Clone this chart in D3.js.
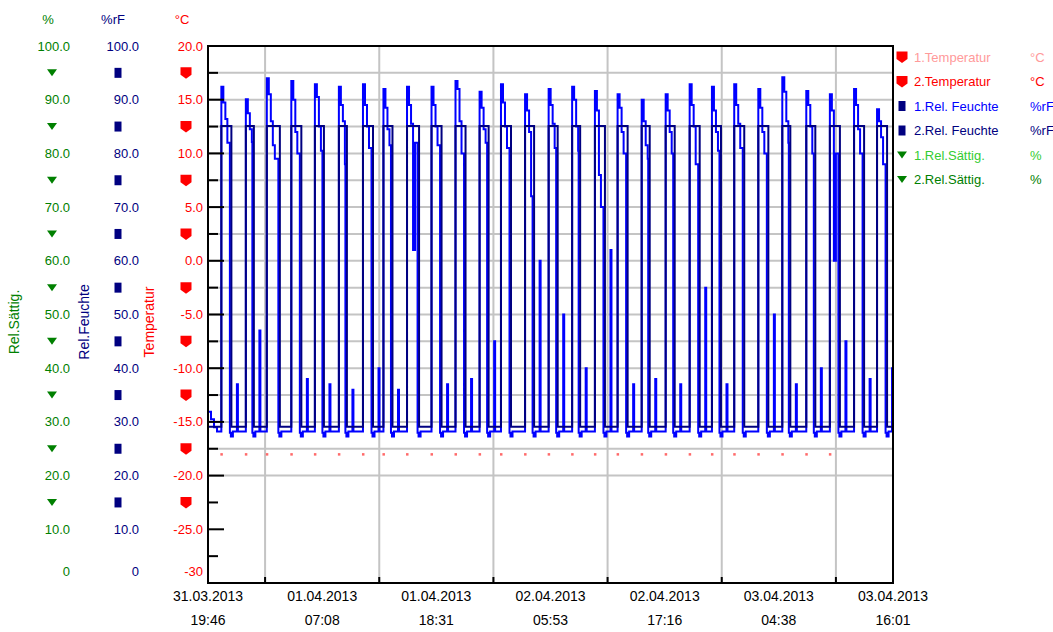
<!DOCTYPE html>
<html>
<head>
<meta charset="utf-8">
<script src="https://cdn.jsdelivr.net/npm/d3@7"></script>
<style>
  body { margin: 0; background: #fff; }
  svg { display: block; font-family: "Liberation Sans", Arial, sans-serif; }
</style>
</head>
<body>
<svg id="chart" width="1053" height="632"></svg>
<script>
// ---- data (hours since 31.03.2013 19:46) ----
const startTime = new Date(2013, 2, 31, 19, 46);
const totalHours = 68.25;

// x axis labels
const xTickHours = [0, 11.375, 22.75, 34.125, 45.5, 56.875, 68.25];
const xTickDates = ["31.03.2013", "01.04.2013", "01.04.2013", "02.04.2013", "02.04.2013", "03.04.2013", "03.04.2013"];
const xTickTimes = ["19:46", "07:08", "18:31", "05:53", "17:16", "04:38", "16:01"];

// left axes tick labels (top to bottom)
const satLabels = ["100.0", "90.0", "80.0", "70.0", "60.0", "50.0", "40.0", "30.0", "20.0", "10.0", "0"];
const rfLabels = ["100.0", "90.0", "80.0", "70.0", "60.0", "50.0", "40.0", "30.0", "20.0", "10.0", "0"];
const tempLabels = ["20.0", "15.0", "10.0", "5.0", "0.0", "-5.0", "-10.0", "-15.0", "-20.0", "-25.0", "-30"];

// 1.Temperatur: one reading per cycle (°C)
const temp1 = [
  [1.33, -18.0], [3.77, -18.0], [5.86, -18.0], [8.30, -18.0], [10.65, -18.0], [13.04, -18.0],
  [15.44, -18.0], [17.48, -18.0], [19.83, -18.0], [22.27, -18.0], [24.66, -18.0], [27.06, -18.0],
  [29.19, -18.0], [31.59, -18.0], [33.94, -18.0], [36.28, -18.0], [38.55, -18.0], [40.81, -18.0],
  [43.21, -18.0], [45.60, -18.0], [47.99, -18.0], [50.21, -18.0], [52.43, -18.0], [54.83, -18.0],
  [57.22, -18.0], [59.61, -18.0], [61.96, -18.0]
];

// 1.Rel. Feuchte (%rF)
const rf1 = [
  [0, 31.9], [0.3, 30.5], [0.6, 29.0], [0.9, 28.2],
  [1.33, 92.4], [1.53, 89.5], [1.73, 86.4], [1.93, 82.0], [2.18, 28.0], [2.28, 27.3], [2.48, 28.2], [2.88, 37.0], [2.98, 28.2],
  [3.77, 90.1], [3.97, 87.5], [4.17, 84.5], [4.37, 82.1], [4.42, 28.0], [4.52, 27.3], [4.72, 28.2], [5.12, 47.0], [5.22, 28.2],
  [5.86, 94.0], [6.06, 91.0], [6.26, 86.0], [6.46, 81.5], [6.66, 79.0], [7.01, 28.0], [7.11, 27.3], [7.31, 28.2],
  [8.30, 93.5], [8.50, 90.0], [8.70, 84.0], [8.90, 80.0], [9.15, 28.0], [9.25, 27.3], [9.45, 28.2], [9.85, 38.0], [9.95, 28.2],
  [10.65, 92.9], [10.85, 90.5], [11.05, 85.0], [11.25, 80.5], [11.40, 28.0], [11.50, 27.3], [11.70, 28.2], [12.10, 37.0], [12.20, 28.2],
  [13.04, 92.4], [13.24, 89.0], [13.44, 86.0], [13.64, 78.0], [13.69, 28.0], [13.79, 27.3], [13.99, 28.2], [14.39, 36.0], [14.49, 28.2],
  [15.44, 92.9], [15.64, 89.0], [15.84, 85.0], [16.04, 81.0], [16.29, 28.0], [16.39, 27.3], [16.59, 28.2], [16.99, 40.0], [17.09, 28.2],
  [17.48, 92.0], [17.68, 88.5], [17.88, 84.5], [18.08, 81.5], [18.23, 28.0], [18.33, 27.3], [18.53, 28.2], [18.93, 36.0], [19.03, 28.2],
  [19.83, 92.4], [20.03, 89.0], [20.23, 85.5], [20.43, 62.0], [20.63, 82.0], [20.88, 28.0], [20.98, 27.3], [21.18, 28.2],
  [22.27, 92.4], [22.47, 89.0], [22.67, 85.0], [22.87, 81.5], [23.12, 28.0], [23.22, 27.3], [23.42, 28.2], [23.82, 37.0], [23.92, 28.2],
  [24.66, 93.5], [24.86, 92.0], [25.06, 86.0], [25.26, 80.0], [25.51, 28.0], [25.61, 27.3], [25.81, 28.2], [26.21, 38.0], [26.31, 28.2],
  [27.06, 91.5], [27.26, 88.5], [27.46, 84.5], [27.66, 82.0], [27.81, 28.0], [27.91, 27.3], [28.11, 28.2], [28.51, 45.0], [28.61, 28.2],
  [29.19, 92.9], [29.39, 89.5], [29.59, 85.0], [29.79, 81.0], [30.04, 28.0], [30.14, 27.3], [30.34, 28.2],
  [31.59, 91.0], [31.79, 88.0], [31.99, 84.0], [32.19, 72.0], [32.34, 28.0], [32.44, 27.3], [32.64, 28.2], [33.04, 60.0], [33.14, 28.2],
  [33.94, 92.0], [34.14, 89.0], [34.34, 85.5], [34.54, 81.0], [34.69, 28.0], [34.79, 27.3], [34.99, 28.2], [35.39, 50.0], [35.49, 28.2],
  [36.28, 92.4], [36.48, 90.0], [36.68, 85.0], [36.88, 80.5], [36.93, 28.0], [37.03, 27.3], [37.23, 28.2], [37.63, 40.0], [37.73, 28.2],
  [38.55, 91.6], [38.75, 88.0], [38.95, 76.0], [39.15, 70.0], [39.40, 28.0], [39.50, 27.3], [39.70, 28.2], [40.10, 62.0], [40.20, 28.2],
  [40.81, 91.0], [41.01, 88.5], [41.21, 84.0], [41.41, 80.0], [41.66, 28.0], [41.76, 27.3], [41.96, 28.2], [42.36, 37.0], [42.46, 28.2],
  [43.21, 90.0], [43.41, 86.0], [43.61, 81.5], [43.81, 79.0], [43.86, 28.0], [43.96, 27.3], [44.16, 28.2], [44.56, 38.0], [44.66, 28.2],
  [45.60, 91.0], [45.80, 88.0], [46.00, 84.0], [46.20, 80.0], [46.35, 28.0], [46.45, 27.3], [46.65, 28.2], [47.05, 37.0], [47.15, 28.2],
  [47.99, 92.9], [48.19, 89.0], [48.39, 85.0], [48.59, 78.0], [48.84, 28.0], [48.94, 27.3], [49.14, 28.2], [49.54, 55.0], [49.64, 28.2],
  [50.21, 92.4], [50.41, 88.0], [50.61, 84.0], [50.81, 80.5], [50.96, 28.0], [51.06, 27.3], [51.26, 28.2], [51.66, 37.0], [51.76, 28.2],
  [52.43, 92.9], [52.63, 89.0], [52.83, 85.5], [53.03, 81.0], [53.28, 28.0], [53.38, 27.3], [53.58, 28.2],
  [54.83, 92.0], [55.03, 88.5], [55.23, 84.0], [55.43, 80.0], [55.68, 28.0], [55.78, 27.3], [55.98, 28.2], [56.38, 50.0], [56.48, 28.2],
  [57.22, 94.2], [57.42, 91.5], [57.62, 86.0], [57.82, 82.0], [57.87, 28.0], [57.97, 27.3], [58.17, 28.2], [58.57, 37.0], [58.67, 28.2],
  [59.61, 91.6], [59.81, 89.0], [60.01, 85.0], [60.21, 80.0], [60.36, 28.0], [60.46, 27.3], [60.66, 28.2], [61.06, 40.0], [61.16, 28.2],
  [61.96, 91.0], [62.16, 88.0], [62.36, 60.0], [62.56, 80.0], [62.81, 28.0], [62.91, 27.3], [63.11, 28.2], [63.51, 45.0], [63.61, 28.2],
  [64.37, 92.0], [64.57, 89.0], [64.77, 84.5], [64.97, 80.0], [65.22, 28.0], [65.32, 27.3], [65.52, 28.2], [65.92, 38.0], [66.02, 28.2],
  [66.66, 88.2], [66.86, 86.0], [67.06, 83.0], [67.26, 78.0], [67.51, 28.0], [67.61, 27.3], [67.81, 28.2], [68.15, 40.0], [68.25, 40.0]
];

// 2.Rel. Feuchte (%rF) - square wave, [hour, value] at each change
const rf2 = [
  [0, 29.1],
  [1.33, 85.1], [2.33, 29.1], [3.77, 85.1], [4.57, 29.1], [5.86, 85.1], [7.16, 29.1],
  [8.30, 85.1], [9.30, 29.1], [10.65, 85.1], [11.55, 29.1], [13.04, 85.1], [13.84, 29.1],
  [15.44, 85.1], [16.44, 29.1], [17.48, 85.1], [18.38, 29.1], [19.83, 85.1], [21.03, 29.1],
  [22.27, 85.1], [23.27, 29.1], [24.66, 85.1], [25.66, 29.1], [27.06, 85.1], [27.96, 29.1],
  [29.19, 85.1], [30.19, 29.1], [31.59, 85.1], [32.49, 29.1], [33.94, 85.1], [34.84, 29.1],
  [36.28, 85.1], [37.08, 29.1], [38.55, 85.1], [39.55, 29.1], [40.81, 85.1], [41.81, 29.1],
  [43.21, 85.1], [44.01, 29.1], [45.60, 85.1], [46.50, 29.1], [47.99, 85.1], [48.99, 29.1],
  [50.21, 85.1], [51.11, 29.1], [52.43, 85.1], [53.43, 29.1], [54.83, 85.1], [55.83, 29.1],
  [57.22, 85.1], [58.02, 29.1], [59.61, 85.1], [60.51, 29.1], [61.96, 85.1], [62.96, 29.1],
  [64.37, 85.1], [65.37, 29.1], [66.66, 85.1], [67.66, 29.1], [68.25, 29.1]
];

const legendNames = ["1.Temperatur", "2.Temperatur", "1.Rel. Feuchte", "2.Rel. Feuchte", "1.Rel.Sättig.", "2.Rel.Sättig."];
const legendUnits = ["°C", "°C", "%rF", "%rF", "%", "%"];
const legendText = ["#ff9a9a", "#ff0000", "#0000ff", "#000080", "#33cc33", "#008000"];
const legendMarker = ["red", "red", "navy", "navy", "green", "green"];

// ---- layout ----
const svg = d3.select("#chart");
const plotL = 208, plotR = 893, plotT = 46, plotB = 583;
const hourDate = h => new Date(startTime.getTime() + h * 3600000);

const x = d3.scaleTime().domain([startTime, hourDate(totalHours)]).range([plotL, plotR]);
const yRF = d3.scaleLinear().domain([0, 100]).range([plotB, plotT]);
const ySat = d3.scaleLinear().domain([0, 100]).range([plotB, plotT]);
const yTemp = d3.scaleLinear().domain([-30, 20]).range([plotB, plotT]);

const green = "#008000", navy = "#000080", red = "#ff0000";

const markerPath = {
  red: "M-5.5,-5.5H5.5V2L0,6L-5.5,2Z",
  navy: "M-3.5,-5H3.5V5H-3.5Z",
  green: "M-5,-3.5H5L0,3.5Z"
};

// gridlines
const minorVals = d3.range(0, 101, 5);
svg.append("g")
  .selectAll("line")
  .data(minorVals.filter(v => v >= 20 && v < 100))
  .join("line")
    .attr("x1", plotL).attr("x2", plotR)
    .attr("y1", d => yRF(d)).attr("y2", d => yRF(d))
    .attr("stroke", "#c4c4c4").attr("stroke-width", 2);

const gridHours = xTickHours.slice(0, -1).map((h, i) => (h + xTickHours[i + 1]) / 2);
svg.append("g")
  .selectAll("line")
  .data(gridHours)
  .join("line")
    .attr("x1", d => x(hourDate(d))).attr("x2", d => x(hourDate(d)))
    .attr("y1", plotT).attr("y2", plotB)
    .attr("stroke", "#c4c4c4").attr("stroke-width", 2);

// series
const lineRF = d3.line()
  .x(d => x(hourDate(d[0])))
  .y(d => yRF(d[1]))
  .curve(d3.curveStepAfter);

svg.append("path")
  .datum(rf1)
  .attr("d", lineRF)
  .attr("fill", "none")
  .attr("stroke", "#0000ff")
  .attr("stroke-width", 2);

svg.append("path")
  .datum(rf2)
  .attr("d", lineRF)
  .attr("fill", "none")
  .attr("stroke", navy)
  .attr("stroke-width", 2);

svg.append("g")
  .selectAll("rect")
  .data(temp1)
  .join("rect")
    .attr("x", d => x(hourDate(d[0])) - 1)
    .attr("y", d => yTemp(d[1]) - 1)
    .attr("width", 2.5).attr("height", 2.5)
    .attr("fill", "#ff6a6a");

// frame
svg.append("rect")
  .attr("x", plotL).attr("y", plotT)
  .attr("width", plotR - plotL).attr("height", plotB - plotT)
  .attr("fill", "none").attr("stroke", "#000").attr("stroke-width", 2);

// left ticks inside frame
svg.append("g")
  .selectAll("line")
  .data(minorVals)
  .join("line")
    .attr("x1", plotL).attr("x2", d => plotL + (d % 10 === 0 ? 16 : 10))
    .attr("y1", d => yRF(d)).attr("y2", d => yRF(d))
    .attr("stroke", "#000").attr("stroke-width", 2);

// bottom ticks
svg.append("g")
  .selectAll("line")
  .data(gridHours)
  .join("line")
    .attr("x1", d => x(hourDate(d))).attr("x2", d => x(hourDate(d)))
    .attr("y1", plotB).attr("y2", plotB - 6)
    .attr("stroke", "#000").attr("stroke-width", 2);

// x labels
const xl = svg.append("g")
  .attr("font-size", 14)
  .attr("fill", "#000")
  .attr("text-anchor", "middle");
xl.selectAll("text.d")
  .data(xTickHours)
  .join("text")
    .attr("class", "d")
    .attr("x", d => x(hourDate(d)))
    .attr("y", 601)
    .text((d, i) => xTickDates[i]);
xl.selectAll("text.t")
  .data(xTickHours)
  .join("text")
    .attr("class", "t")
    .attr("x", d => x(hourDate(d)))
    .attr("y", 625)
    .text((d, i) => xTickTimes[i]);

// left axes
const labelVals = d3.range(100, -1, -10);
const markerVals = d3.range(95, 14, -10);

function leftAxis(scale, vals, labels, xLabel, xMarker, color, marker) {
  const g = svg.append("g").attr("font-size", 13).attr("fill", color);
  g.selectAll("text")
    .data(vals)
    .join("text")
      .attr("x", xLabel)
      .attr("y", d => Math.min(scale(d), 571))
      .attr("dy", "0.35em")
      .attr("text-anchor", "end")
      .text((d, i) => labels[i]);
  g.selectAll("path")
    .data(markerVals)
    .join("path")
      .attr("transform", d => `translate(${xMarker},${yRF(d)})`)
      .attr("d", markerPath[marker])
      .attr("fill", color);
}
leftAxis(ySat, labelVals, satLabels, 70, 52, green, "green");
leftAxis(yRF, labelVals, rfLabels, 139, 118, navy, "navy");
leftAxis(yTemp, d3.range(20, -31, -5), tempLabels, 203, 186, red, "red");

// unit headers
const heads = [["%", 48, green], ["%rF", 113, navy], ["°C", 182, red]];
svg.append("g")
  .attr("font-size", 13)
  .selectAll("text")
  .data(heads)
  .join("text")
    .attr("x", d => d[1]).attr("y", 24)
    .attr("text-anchor", "middle")
    .attr("fill", d => d[2])
    .text(d => d[0]);

// vertical axis titles
const titles = [["Rel.Sättig.", 19, green], ["Rel.Feuchte", 89, navy], ["Temperatur", 154, red]];
svg.append("g")
  .attr("font-size", 14)
  .selectAll("text")
  .data(titles)
  .join("text")
    .attr("transform", d => `translate(${d[1]},322) rotate(-90)`)
    .attr("text-anchor", "middle")
    .attr("fill", d => d[2])
    .text(d => d[0]);

// legend
const lg = svg.append("g").attr("font-size", 13);
const row = lg.selectAll("g")
  .data(legendNames)
  .join("g")
    .attr("transform", (d, i) => `translate(902,${57 + i * 24.5})`);
row.append("path")
  .attr("d", (d, i) => markerPath[legendMarker[i]])
  .attr("fill", (d, i) => legendMarker[i] === "red" ? red : legendMarker[i] === "navy" ? navy : green);
row.append("text")
  .attr("x", 12).attr("dy", "0.35em")
  .attr("fill", (d, i) => legendText[i])
  .text(d => d);
row.append("text")
  .attr("x", 128).attr("dy", "0.35em")
  .attr("fill", (d, i) => legendText[i])
  .text((d, i) => legendUnits[i]);
</script>
</body>
</html>
